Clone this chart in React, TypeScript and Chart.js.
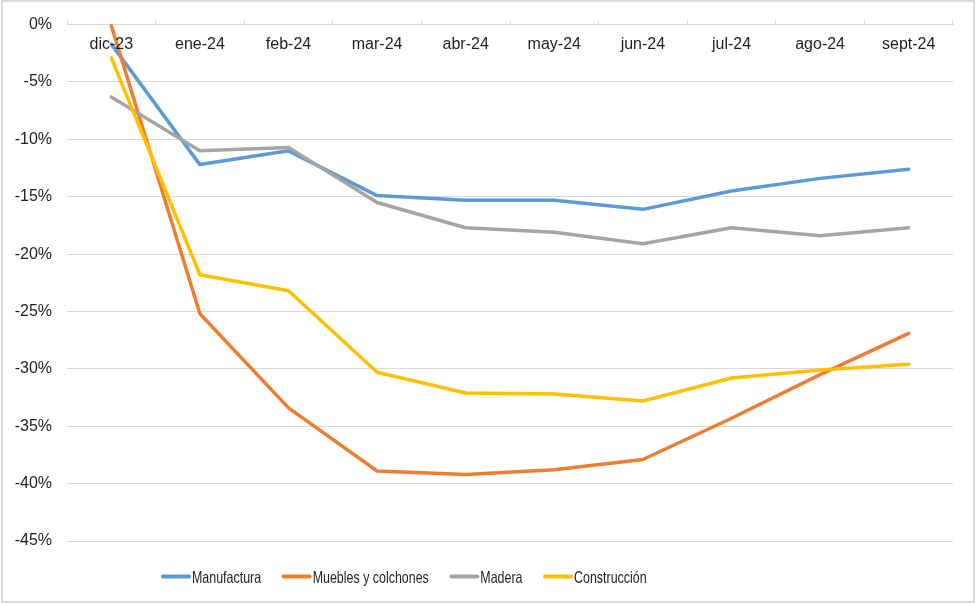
import { useEffect, useRef } from "react";
import { Chart, registerables } from "chart.js";

Chart.register(...registerables);

const categories = ["dic-23", "ene-24", "feb-24", "mar-24", "abr-24", "may-24", "jun-24", "jul-24", "ago-24", "sept-24"];
const seriesNames = ["Manufactura", "Muebles y colchones", "Madera", "Construcción"];
const manufactura = [-1.7, -12.2, -11.0, -14.9, -15.3, -15.3, -16.1, -14.5, -13.4, -12.6];
const muebles = [-0.1, -25.2, -33.4, -38.9, -39.2, -38.8, -37.9, -34.3, -30.5, -26.9];
const madera = [-6.3, -11.0, -10.7, -15.5, -17.7, -18.1, -19.1, -17.7, -18.4, -17.7];
const construccion = [-2.9, -21.8, -23.2, -30.3, -32.1, -32.2, -32.8, -30.8, -30.1, -29.6];
const seriesColors = ["#5B9BD5", "#ED7D31", "#A5A5A5", "#FFC000"];
const yMin = -45;
const yMax = 0;
const yStep = 5;

const FONT = '"Liberation Sans", Arial, sans-serif';
const TEXT_COLOR = "#1f1f1f";

const frameAndLabels = {
  id: "frameAndLabels",
  beforeDraw(chart: any) {
    const ctx = chart.ctx;
    ctx.save();
    ctx.fillStyle = "#ffffff";
    ctx.fillRect(0, 0, chart.width, chart.height);
    ctx.strokeStyle = "#d9d9d9";
    ctx.lineWidth = 2;
    ctx.strokeRect(2, 1, 972, 601);
    ctx.restore();
  },
  afterDraw(chart: any) {
    const ctx = chart.ctx;
    const xs = chart.scales.x;
    const top = chart.chartArea.top;
    ctx.save();
    // category labels just below the zero axis line
    ctx.font = `16px ${FONT}`;
    ctx.fillStyle = TEXT_COLOR;
    ctx.textAlign = "center";
    ctx.textBaseline = "alphabetic";
    categories.forEach((c, i) => {
      ctx.fillText(c, xs.getPixelForValue(i), top + 24.5);
    });
    // legend (condensed text)
    const sx = 0.754;
    const yLine = 576.5;
    let x = 161;
    ctx.font = `16.5px ${FONT}`;
    ctx.textAlign = "left";
    chart.data.datasets.forEach((ds: any) => {
      ctx.strokeStyle = ds.borderColor;
      ctx.lineWidth = 4;
      ctx.lineCap = "round";
      ctx.beginPath();
      ctx.moveTo(x + 2, yLine);
      ctx.lineTo(x + 28, yLine);
      ctx.stroke();
      x += 31;
      const w = ctx.measureText(ds.label).width * sx;
      ctx.save();
      ctx.translate(x, 582.5);
      ctx.scale(sx, 1);
      ctx.fillStyle = TEXT_COLOR;
      ctx.fillText(ds.label, 0, 0);
      ctx.restore();
      x += w + 20.5;
    });
    ctx.restore();
  },
};

export default function App() {
  const ref = useRef<HTMLCanvasElement | null>(null);
  useEffect(() => {
    if (!ref.current) return;
    const values = [manufactura, muebles, madera, construccion];
    const chart = new Chart(ref.current, {
      type: "line",
      data: {
        labels: categories,
        datasets: values.map((v, i) => ({
          label: seriesNames[i],
          data: v,
          borderColor: seriesColors[i],
          backgroundColor: seriesColors[i],
          borderWidth: 3.5,
          borderCapStyle: "round" as const,
          borderJoinStyle: "round" as const,
          pointRadius: 0,
          pointHoverRadius: 0,
          tension: 0,
          fill: false,
          order: values.length - i,
          clip: 6,
        })),
      },
      options: {
        responsive: false,
        animation: false,
        devicePixelRatio: 1,
        layout: { padding: { left: 7, top: 18, right: 26, bottom: 65 } },
        plugins: {
          legend: { display: false },
          tooltip: { enabled: false },
        },
        scales: {
          x: {
            type: "category",
            position: "top",
            offset: true,
            grid: {
              offset: true,
              drawOnChartArea: false,
              drawTicks: true,
              tickLength: 4,
              color: "#d9d9d9",
              lineWidth: 1,
            },
            border: { display: true, color: "#d9d9d9", width: 1 },
            ticks: { display: false },
            afterFit: (s: any) => {
              s.height = 4;
            },
          },
          y: {
            min: yMin,
            max: yMax,
            grid: { color: "#d9d9d9", lineWidth: 1, drawTicks: false },
            border: { display: false },
            ticks: {
              stepSize: yStep,
              padding: 15,
              color: TEXT_COLOR,
              font: { family: FONT, size: 16 },
              callback: (v: any) => `${v}%`,
            },
            afterFit: (s: any) => {
              s.width = 60;
            },
          },
        },
      },
      plugins: [frameAndLabels],
    });
    return () => chart.destroy();
  }, []);
  return (
    <div style={{ position: "absolute", left: 0, top: 0, width: 979, height: 606 }}>
      <canvas ref={ref} width={979} height={606} style={{ display: "block" }} />
    </div>
  );
}
